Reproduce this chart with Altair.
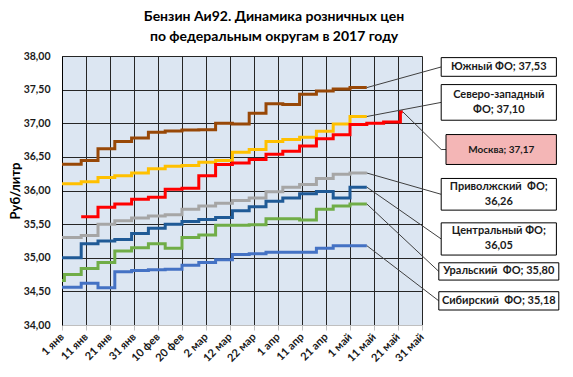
import altair as alt
import pandas as pd

# ---------------- data ----------------
dates = ["2017-01-01", "2017-01-02", "2017-01-09", "2017-01-16", "2017-01-23", "2017-01-30",
         "2017-02-06", "2017-02-13", "2017-02-20", "2017-02-27", "2017-03-06", "2017-03-13",
         "2017-03-20", "2017-03-27", "2017-04-03", "2017-04-10", "2017-04-17", "2017-04-24",
         "2017-05-01", "2017-05-08", "2017-05-15", "2017-05-22", "2017-05-23"]

yuzhny   = [36.39, None, 36.445, 36.62, 36.73, 36.78, 36.865, 36.885, 36.90, 36.905, 37.00, 36.99,
            37.15, 37.29, 37.28, 37.43, 37.48, 37.51, 37.53, 37.53, None, None, None]
szfo     = [36.10, None, 36.13, 36.195, 36.22, 36.26, 36.325, 36.36, 36.37, 36.42, 36.445, 36.57,
            36.61, 36.73, 36.76, 36.79, 36.88, 36.99, 37.10, 37.10, None, None, None]
moscow   = [None, None, 35.61, 35.75, 35.80, 35.87, 35.90, 36.02, 36.035, 36.22, 36.385, 36.41,
            36.46, 36.54, 36.585, 36.66, 36.77, 36.83, 36.98, 37.00, 37.02, 37.17, 37.17]
privolzh = [35.30, None, 35.33, 35.50, 35.55, 35.59, 35.62, 35.64, 35.72, 35.77, 35.81, 35.85,
            35.89, 35.98, 36.05, 36.09, 36.18, 36.24, 36.26, 36.26, None, None, None]
central  = [35.00, None, 35.21, 35.25, 35.27, 35.36, 35.44, 35.50, 35.54, 35.57, 35.60, 35.70,
            35.76, 35.84, 35.89, 35.95, 35.985, 35.89, 36.05, 36.05, None, None, None]
ural     = [34.66, 34.75, 34.84, 34.93, 35.10, 35.15, 35.21, 35.14, 35.30, 35.34, 35.485, 35.485,
            35.49, 35.58, 35.58, 35.56, 35.72, 35.77, 35.80, 35.80, None, None, None]
sibir    = [34.56, None, 34.62, 34.555, 34.79, 34.81, 34.82, 34.83, 34.89, 34.93, 34.97, 35.05,
            35.06, 35.08, 35.08, 35.08, 35.14, 35.18, 35.18, 35.18, None, None, None]

series_names = ["Южный ФО", "Северо-западный ФО", "Москва", "Приволжский ФО",
                "Центральный ФО", "Уральский ФО", "Сибирский ФО"]
series_values = [yuzhny, szfo, moscow, privolzh, central, ural, sibir]
colors = ["#984807", "#ffc000", "#ff0000", "#a6a6a6", "#1f5a96", "#70ad47", "#4472c4"]

label_texts = ["Южный ФО; 37,53", "Северо-западный\nФО; 37,10", "Москва; 37,17",
               "Приволжский\u00a0 ФО;\n36,26", "Центральный ФО;\n36,05",
               "Уральский\u00a0 ФО; 35,80", "Сибирский\u00a0 ФО; 35,18"]
label_size = [11, 11, 10, 11, 11, 11, 11]
box_top    = [37.976, 37.575, 36.832, 36.179, 35.519, 34.925, 34.495]
box_bottom = [37.698, 37.045, 36.387, 35.708, 35.040, 34.668, 34.223]
box_left   = ["2017-06-08", "2017-06-08", "2017-06-10", "2017-06-08", "2017-06-08", "2017-06-07", "2017-06-07"]
box_right  = ["2017-07-26", "2017-07-26", "2017-07-26", "2017-07-26", "2017-07-26", "2017-07-27", "2017-07-27"]
box_fill   = ["#ffffff", "#ffffff", "#f4b6b6", "#ffffff", "#ffffff", "#ffffff", "#ffffff"]
leader_elbow = [None, None, "2017-06-08", None, None, None, None]

tick_dates = ["2017-01-01", "2017-01-11", "2017-01-21", "2017-01-31", "2017-02-10", "2017-02-20",
              "2017-03-02", "2017-03-12", "2017-03-22", "2017-04-01", "2017-04-11", "2017-04-21",
              "2017-05-01", "2017-05-11", "2017-05-21", "2017-05-31"]
month_abbr = ["янв", "фев", "мар", "апр", "май", "июн", "июл"]
y_ticks = [34.0, 34.5, 35.0, 35.5, 36.0, 36.5, 37.0, 37.5, 38.0]

title_lines = ["Бензин Аи92. Динамика розничных цен", "по федеральным округам в 2017 году"]

# ---------------- tables ----------------
rows = []
for name, vals in zip(series_names, series_values):
    for d, v in zip(dates, vals):
        if v is not None:
            rows.append({"series": name, "date": d, "value": v})
df = pd.DataFrame(rows)


def ms(s):
    return int(pd.Timestamp(s, tz="UTC").value // 10**6)


def iso_mid(a, b):
    ta, tb = pd.Timestamp(a, tz="UTC"), pd.Timestamp(b, tz="UTC")
    return (ta + (tb - ta) / 2).strftime("%Y-%m-%dT%H:%M:%SZ")


lab_rows, lead_rows = [], []
for i, txt in enumerate(label_texts):
    center = (box_top[i] + box_bottom[i]) / 2
    lab_rows.append({"label": txt, "left": box_left[i], "right": box_right[i],
                     "top": box_top[i], "bottom": box_bottom[i], "fill": box_fill[i],
                     "mid": iso_mid(box_left[i], box_right[i]), "center": center,
                     "lines": txt.count("\n") + 1, "fs": label_size[i]})
    vals = series_values[i]
    last = max(k for k, v in enumerate(vals) if v is not None)
    pts = [(dates[last], vals[last])]
    if leader_elbow[i]:
        pts.append((leader_elbow[i], center))
    pts.append((box_left[i], center))
    for k, (d, v) in enumerate(pts):
        lead_rows.append({"label": txt, "order": k, "date": d, "value": v})
lab_df = pd.DataFrame(lab_rows)
lead_df = pd.DataFrame(lead_rows)

# ---------------- chart ----------------
FONT = "Lato, Open Sans, sans-serif"
x_scale = alt.Scale(type="utc", domain=[ms(tick_dates[0]), ms(tick_dates[-1])])
y_scale = alt.Scale(domain=[34, 38], nice=False, zero=False)

x_axis = alt.Axis(
    values=[ms(t) for t in tick_dates],
    labelExpr="utcdate(datum.value) + ' ' + " + str(month_abbr) + "[utcmonth(datum.value)]",
    labelAngle=315, labelAlign="right", labelBaseline="middle",
    labelFont=FONT, labelFontSize=11, labelFontWeight="bold", labelColor="#1a1a1a",
    labelPadding=5, labelOverlap=False, labelFlush=False, labelBound=False,
    tickColor="#bfbfbf", tickSize=5, domainColor="#bfbfbf",
    grid=True, gridColor="#262626", gridWidth=1, title=None,
)
y_axis = alt.Axis(
    values=y_ticks,
    labelExpr="replace(format(datum.value, '.2f'), '.', ',')",
    labelFont=FONT, labelFontSize=10.5, labelFontWeight="bold", labelColor="#1a1a1a",
    labelPadding=12, ticks=False, domainColor="#000000",
    grid=True, gridWidth=1,
    gridColor={"condition": {"test": "datum.value === 34", "value": "#bfbfbf"}, "value": "#262626"},
    title="Руб/литр", titleFont=FONT, titleFontSize=13, titleFontWeight="bold", titleColor="#000000",
    titleAngle=270, titleAlign="center", titleBaseline="middle", titleX=-47, titleY=134.5,
)


def X(field):
    return alt.X(field, type="temporal", scale=x_scale, axis=x_axis)


def Y(field):
    return alt.Y(field, type="quantitative", scale=y_scale, axis=y_axis)


lines = alt.Chart(df).mark_line(interpolate="step-after", strokeWidth=3).encode(
    x=X("date"),
    y=Y("value"),
    color=alt.Color("series:N", scale=alt.Scale(domain=series_names, range=colors), legend=None),
)

leaders = alt.Chart(lead_df).mark_line(color="#404040", strokeWidth=1).encode(
    x=X("date"),
    y=Y("value"),
    detail="label:N",
    order="order:Q",
)

boxes = alt.Chart(lab_df).mark_rect(stroke="#000000", strokeWidth=1).encode(
    x=X("left"),
    x2="right:T",
    y=Y("top"),
    y2="bottom:Q",
    fill=alt.Fill("fill:N", scale=None),
)

text_style = dict(font=FONT, fontWeight="bold", color="#1a1a1a",
                  lineBreak="\n", lineHeight=15, align="center", baseline="middle")
texts1 = alt.Chart(lab_df).transform_filter("datum.lines == 1").mark_text(**text_style).encode(
    x=X("mid"),
    y=Y("center"),
    text="label:N",
    size=alt.Size("fs:Q", scale=None),
)
texts2 = alt.Chart(lab_df).transform_filter("datum.lines == 2").mark_text(dy=-7.5, **text_style).encode(
    x=X("mid"),
    y=Y("center"),
    text="label:N",
    size=alt.Size("fs:Q", scale=None),
)

chart = alt.layer(lines, leaders, boxes, texts1, texts2).properties(
    width=360,
    height=269,
    title=alt.TitleParams(
        text=title_lines, font=FONT, fontSize=14, fontWeight="bold", color="#000000",
        anchor="middle", dx=32, offset=7, lineHeight=20,
    ),
    autosize=alt.AutoSizeParams(type="none"),
    padding={"left": 54, "top": 48, "right": 141, "bottom": 44},
).configure_view(stroke=None, fill="#dce6f2")

chart.save("out.html", embed_options={"renderer": "svg", "actions": False})
